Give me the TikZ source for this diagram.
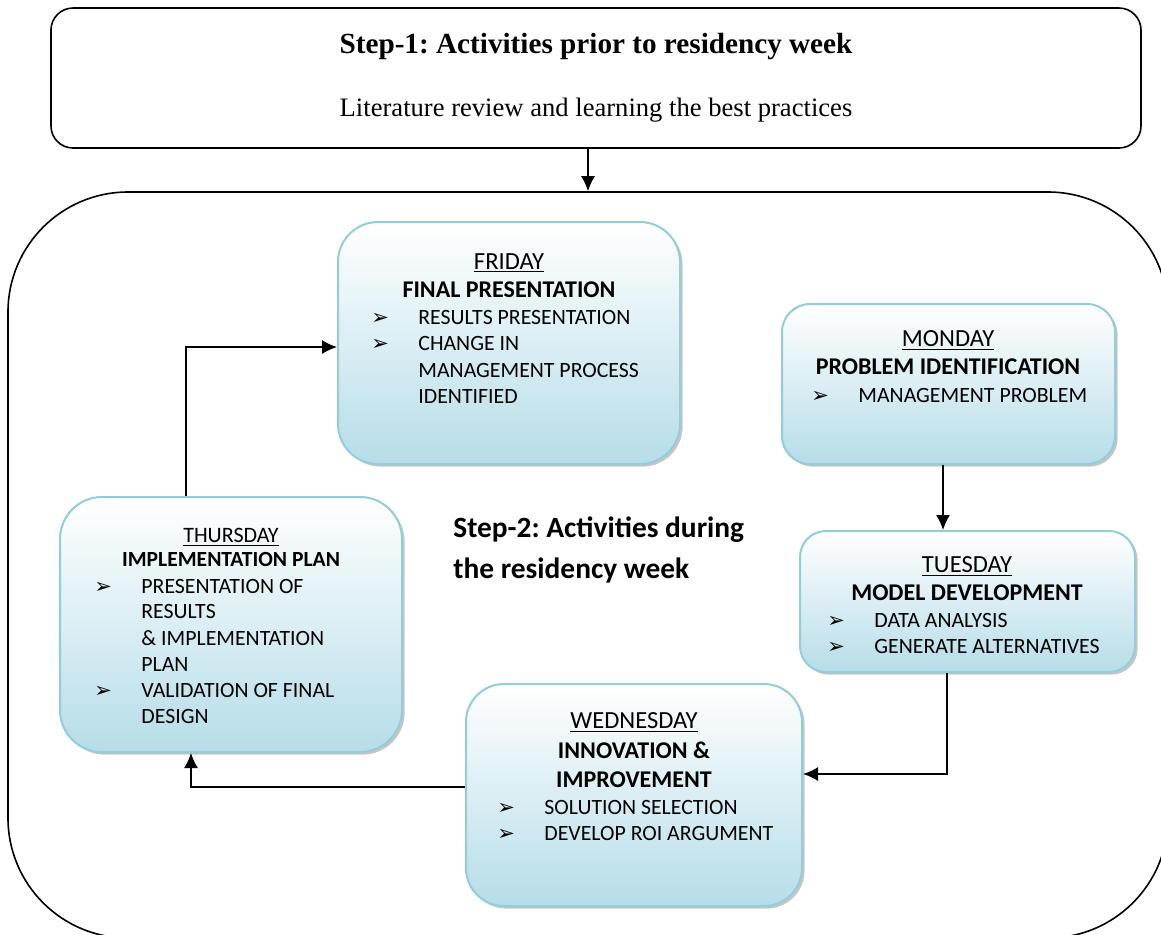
\documentclass[tikz,border=0pt]{standalone}
\usepackage{fontspec}
\setmainfont{Liberation Serif}
\newfontfamily\calfont{Carlito}
\newfontfamily\dvfont{DejaVu Sans}
\usetikzlibrary{arrows.meta,shadows,calc}
\definecolor{boxblue}{HTML}{B6DDE8}
\definecolor{boxedge}{HTML}{92CDDC}
\frenchspacing
\tikzset{
  outline/.style={draw=black, line width=0.8pt},
  daybox/.style={draw=boxedge, line width=1pt, top color=white, bottom color=boxblue,
    drop shadow={shadow xshift=1.3pt, shadow yshift=-1.3pt, fill=black!45}},
  arr/.style={draw=black, line width=0.75pt, -{Latex[length=7.5pt,width=7pt]}},
  ln/.style={font=\calfont\fontsize{10.9pt}{13pt}\selectfont, anchor=base, inner sep=0pt},
  lday/.style={ln, font=\calfont\fontsize{12.3pt}{14pt}\selectfont},
  lnb/.style={ln, font=\calfont\bfseries\fontsize{12pt}{14pt}\selectfont},
  ldays/.style={ln, font=\calfont\fontsize{11pt}{13pt}\selectfont},
  lnbs/.style={ln, font=\calfont\bfseries\fontsize{10.8pt}{13pt}\selectfont},
  li/.style={ln, anchor=base west},
  bulmark/.style={anchor=base west, inner sep=0pt, font=\dvfont\fontsize{10.5pt}{12pt}\selectfont},
}
\newcommand{\bitem}[4]{\node[bulmark] (#1m) at (#2-47,#3) {➢}; \node[li] (#1) at (#2,#3) {#4};}
\begin{document}
\begin{tikzpicture}[x=0.5pt,y=-0.5pt]
\useasboundingbox (0,0) rectangle (1161,934);
% Step 1 box
\node[outline, rounded corners=11pt, minimum width=545pt, minimum height=70pt] (top) at (596,78) {};
\node[anchor=base, inner sep=0pt, font=\bfseries\fontsize{14.6pt}{17pt}\selectfont] (t1) at (596,53) {Step-1: Activities prior to residency week};
\node[anchor=base, inner sep=0pt, font=\fontsize{13.3pt}{16pt}\selectfont] (t2) at (596,116) {Literature review and learning the best practices};
% outer box
\begin{scope}
\clip (0,0) rectangle (1161,934);
\node[outline, rounded corners=60pt, minimum width=580pt, minimum height=373pt] (outer) at (588,565) {};
\end{scope}
% Step 2 label
\node[anchor=base west, inner sep=0pt, font=\calfont\bfseries\fontsize{14.7pt}{20pt}\selectfont] (s2a) at (453,537) {Step-2: Activities during};
\node[anchor=base west, inner sep=0pt, font=\calfont\bfseries\fontsize{14.7pt}{20pt}\selectfont] (s2b) at (453,578) {the residency week};
% Friday
\node[daybox, rounded corners=20pt, minimum width=171pt, minimum height=121pt] (fri) at (509,343) {};
\node[lday] (f0) at (509,269) {\underline{FRIDAY}};
\node[lnb] (f1) at (509,297) {FINAL PRESENTATION};
\bitem{f2}{418}{324}{RESULTS PRESENTATION}
\bitem{f3}{418}{350}{CHANGE IN}
\node[li] (f4) at (418,377) {MANAGEMENT PROCESS};
\node[li] (f5) at (418,403) {IDENTIFIED};
% Monday
\node[daybox, rounded corners=14pt, minimum width=166.5pt, minimum height=80pt] (mon) at (948.5,384) {};
\node[lday] (m0) at (948,346) {\underline{MONDAY}};
\node[lnb] (m1) at (948,374) {PROBLEM IDENTIFICATION};
\bitem{m2}{858}{402}{MANAGEMENT PROBLEM}
% Tuesday
\node[daybox, rounded corners=13pt, minimum width=167.5pt, minimum height=70.5pt] (tue) at (967.5,601.5) {};
\node[lday] (u0) at (967,572) {\underline{TUESDAY}};
\node[lnb] (u1) at (967,600) {MODEL DEVELOPMENT};
\bitem{u2}{874}{627}{DATA ANALYSIS}
\bitem{u3}{874}{653}{GENERATE ALTERNATIVES}
% Wednesday
\node[daybox, rounded corners=19pt, minimum width=168pt, minimum height=111pt] (wed) at (634,795) {};
\node[lday] (w0) at (634,728) {\underline{WEDNESDAY}};
\node[lnb] (w1) at (634,758) {INNOVATION \&};
\node[lnb] (w2) at (634,787) {IMPROVEMENT};
\bitem{w3}{544}{814}{SOLUTION SELECTION}
\bitem{w4}{544}{840}{DEVELOP ROI ARGUMENT}
% Thursday
\node[daybox, rounded corners=21pt, minimum width=171pt, minimum height=127.5pt] (thu) at (231,624.5) {};
\node[ldays] (h0) at (231,542) {\underline{THURSDAY}};
\node[lnbs] (h1) at (231,566) {IMPLEMENTATION PLAN};
\bitem{h2}{141}{593}{PRESENTATION OF}
\node[li] (h3) at (141,618) {RESULTS};
\node[li] (h4) at (141,645) {\& IMPLEMENTATION};
\node[li] (h5) at (141,671) {PLAN};
\bitem{h6}{141}{697}{VALIDATION OF FINAL}
\node[li] (h7) at (141,723) {DESIGN};
% connectors
\draw[arr] (top.south -| outer.north) -- (outer.north);
\draw[arr] ([xshift=-2.75pt]mon.south) -- ([xshift=-2.75pt]mon.south |- tue.north);
\draw[arr] ([xshift=-10.25pt]tue.south) |- ([yshift=10.5pt]wed.east);
\draw[arr] ([yshift=4pt]wed.west) -| ([xshift=-20pt]thu.south);
\draw[arr] ([xshift=-22.5pt]thu.north) |- ([yshift=-2pt]fri.west);
\end{tikzpicture}
\end{document}
